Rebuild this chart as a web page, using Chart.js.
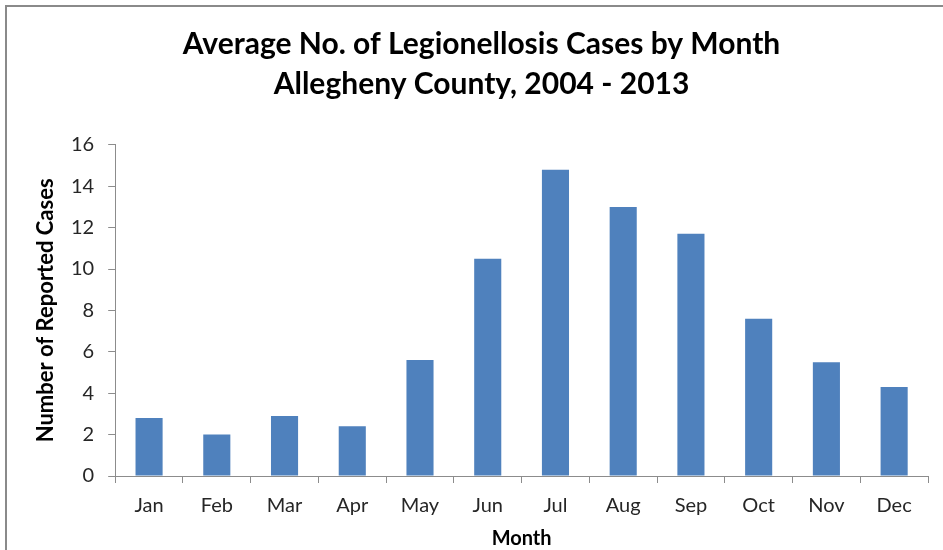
<!DOCTYPE html>
<html>
<head>
<meta charset="utf-8">
<title>Legionellosis by Month</title>
<script src="https://cdn.jsdelivr.net/npm/chart.js@4"></script>
<style>
  html, body { margin: 0; padding: 0; background: #fff; }
  #wrap { width: 943px; height: 550px; }
</style>
</head>
<body>
<div id="wrap"><canvas id="grafico" width="943" height="550"></canvas></div>
<script>
const meses = ['Jan', 'Feb', 'Mar', 'Apr', 'May', 'Jun', 'Jul', 'Aug', 'Sep', 'Oct', 'Nov', 'Dec'];
const mediaCasos = [2.8, 2.0, 2.9, 2.4, 5.6, 10.5, 14.8, 13.0, 11.7, 7.6, 5.5, 4.3];
const tituloLinhas = ['Average No. of Legionellosis Cases by Month', 'Allegheny County, 2004 - 2013'];

const fonte = 'Lato, "Open Sans", sans-serif';
const cinzaEixo = '#8c8c8c';

// moldura cinza em volta do grafico (so topo e esquerda aparecem)
const moldura = {
    id: 'moldura',
    beforeDraw(chart) {
        const ctx = chart.ctx;
        ctx.save();
        ctx.strokeStyle = '#8a8a8a';
        ctx.lineWidth = 2;
        ctx.strokeRect(6, 6, chart.width + 20, chart.height + 20);
        ctx.restore();
    }
};

const ctx = document.getElementById('grafico').getContext('2d');
const grafico = new Chart(ctx, {
    type: 'bar',
    data: {
        labels: meses,
        datasets: [{
            label: 'Average cases',
            data: mediaCasos,
            backgroundColor: '#4f81bd',
            borderWidth: 0,
            categoryPercentage: 1,
            barPercentage: 0.4
        }]
    },
    options: {
        responsive: false,
        animation: false,
        layout: { padding: { left: 35, right: 15, top: 15, bottom: 1 } },
        plugins: {
            legend: { display: false },
            tooltip: { enabled: false },
            title: {
                display: true,
                text: tituloLinhas,
                color: '#000',
                font: { family: fonte, size: 30, weight: 'bold', lineHeight: 1.33 },
                padding: { top: 9, bottom: 41 }
            }
        },
        scales: {
            y: {
                min: 0,
                max: 16,
                ticks: { stepSize: 2, color: '#262626', font: { family: fonte, size: 20 }, padding: 14 },
                grid: { drawOnChartArea: false, color: cinzaEixo, tickLength: 7 },
                border: { color: cinzaEixo, width: 1 },
                title: {
                    display: true,
                    text: 'Number of Reported Cases',
                    color: '#000',
                    font: { family: fonte, size: 22, weight: 'bold', lineHeight: 1 },
                    padding: { top: 0, bottom: 0 }
                }
            },
            x: {
                ticks: { color: '#262626', font: { family: fonte, size: 20, lineHeight: 1 }, padding: 13 },
                grid: { drawOnChartArea: false, color: cinzaEixo, tickLength: 7 },
                border: { color: cinzaEixo, width: 1 },
                title: {
                    display: true,
                    text: 'Month',
                    color: '#000',
                    font: { family: fonte, size: 20, weight: 'bold', lineHeight: 1 },
                    padding: { top: 0, bottom: 0 }
                }
            }
        }
    },
    plugins: [moldura]
});
</script>
</body>
</html>
